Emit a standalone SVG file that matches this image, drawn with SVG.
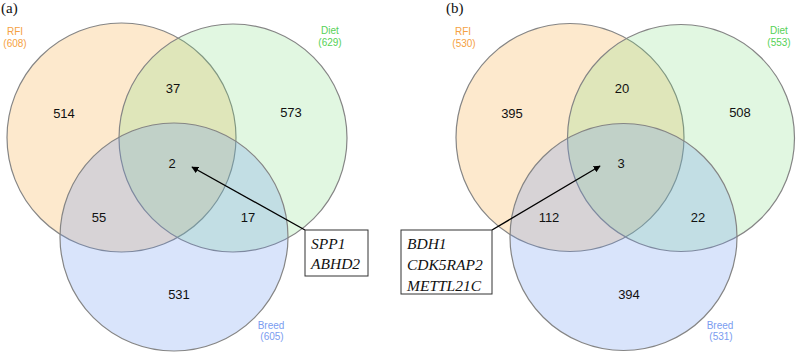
<svg xmlns="http://www.w3.org/2000/svg" width="798" height="353" viewBox="0 0 798 353">
<style>
.c{stroke:#858585;stroke-width:1.2}
.rfi{fill:rgb(247,170,60);fill-opacity:0.26}
.diet{fill:rgb(120,220,120);fill-opacity:0.22}
.breed{fill:rgb(110,150,240);fill-opacity:0.26}
.n{font-family:"Liberation Sans",Arial,sans-serif;font-size:13px;fill:#111;text-anchor:middle}
.lab{font-family:"Liberation Sans",Arial,sans-serif;font-size:10px;text-anchor:middle}
.lr{fill:#f5a142}.ld{fill:#55d155}.lb{fill:#7a9cf0}
.p{font-family:"Liberation Serif","Times New Roman",serif;font-size:15px;fill:#111}
.g{font-family:"Liberation Serif","Times New Roman",serif;font-style:italic;font-size:15.5px;fill:#111}
.box{fill:#fff;stroke:#333;stroke-width:1}
.arr{stroke:#000;stroke-width:1.4;fill:none;marker-end:url(#ah)}
</style>
<defs>
<marker id="ah" viewBox="0 0 10 10" refX="9" refY="5" markerWidth="7" markerHeight="7" markerUnits="userSpaceOnUse" orient="auto">
<path d="M0,0 L10,5 L0,10 z" fill="#000"/>
</marker>
</defs>
<rect width="798" height="353" fill="#fff"/>
<text class="p" x="1" y="13">(a)</text>
<text class="p" x="446" y="13">(b)</text>
<g id="a-rfi"><circle class="c rfi" cx="121.5" cy="137.5" r="114.5"/><text class="lab lr" x="15" y="35">RFI</text><text class="lab lr" x="15" y="47">(608)</text></g>
<g id="a-diet"><circle class="c diet" cx="233" cy="138" r="114"/><text class="lab ld" x="330" y="34">Diet</text><text class="lab ld" x="330" y="46">(629)</text></g>
<g id="a-breed"><circle class="c breed" cx="174" cy="237" r="114"/><text class="lab lb" x="271" y="329">Breed</text><text class="lab lb" x="272" y="340">(605)</text></g>
<g id="a-counts">
<text class="n" x="64" y="118">514</text>
<text class="n" x="173" y="93">37</text>
<text class="n" x="291" y="117">573</text>
<text class="n" x="172" y="168">2</text>
<text class="n" x="99" y="222">55</text>
<text class="n" x="248" y="222">17</text>
<text class="n" x="179" y="299">531</text>
</g>
<g id="b-rfi"><circle class="c rfi" cx="570" cy="137.5" r="114"/><text class="lab lr" x="463" y="35">RFI</text><text class="lab lr" x="464" y="47">(530)</text></g>
<g id="b-diet"><circle class="c diet" cx="681" cy="138" r="113.5"/><text class="lab ld" x="779" y="34">Diet</text><text class="lab ld" x="779" y="46">(553)</text></g>
<g id="b-breed"><circle class="c breed" cx="623.5" cy="237" r="113.5"/><text class="lab lb" x="720" y="329">Breed</text><text class="lab lb" x="721" y="340">(531)</text></g>
<g id="b-counts">
<text class="n" x="512" y="118">395</text>
<text class="n" x="622" y="93">20</text>
<text class="n" x="740" y="117">508</text>
<text class="n" x="621" y="168">3</text>
<text class="n" x="549" y="222">112</text>
<text class="n" x="698" y="222">22</text>
<text class="n" x="629" y="299">394</text>
</g>
<g id="connectors">
<line class="arr" x1="305" y1="230" x2="192" y2="167"/>
<line class="arr" x1="492" y1="230" x2="600" y2="166"/>
</g>
<g id="a-genes"><rect class="box" x="305" y="230" width="63" height="46"/><text class="g" x="311" y="249">SPP1</text><text class="g" x="311" y="269">ABHD2</text></g>
<g id="b-genes"><rect class="box" x="401" y="230" width="91" height="64"/><text class="g" x="407" y="249">BDH1</text><text class="g" x="407" y="270">CDK5RAP2</text><text class="g" x="407" y="291">METTL21C</text></g>
</svg>
